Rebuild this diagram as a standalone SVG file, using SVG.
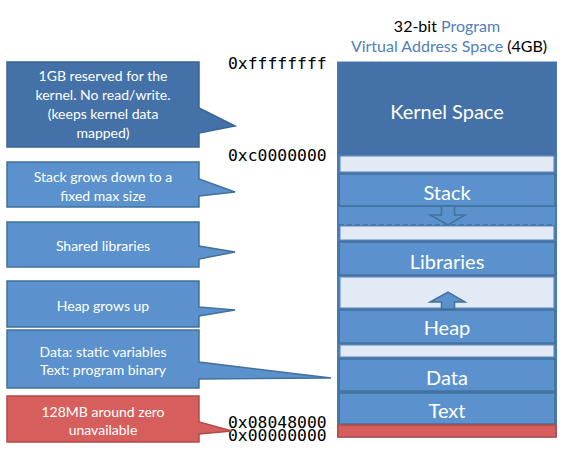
<svg xmlns="http://www.w3.org/2000/svg" width="581" height="453" viewBox="0 0 581 453">
<style>
.t{font-family:Lato,"Open Sans","Liberation Sans",sans-serif;text-anchor:middle;fill:#fff}
.c{font-size:14px}
.b{font-size:20px}
.addr{font-family:"DejaVu Sans Mono","Liberation Mono",monospace;font-size:16.4px;fill:#000}
.blk{fill:#5b92cd;stroke:#41719c;stroke-width:1.5}
.lt{fill:#e1eaf5;stroke:#5b85b8;stroke-width:1}
.cb{fill:#5b92cd;stroke:#41719c;stroke-width:1.5}
.ck{fill:#4472a8;stroke:#3a6496;stroke-width:1.5}
.cr{fill:#d65f5d;stroke:#b34b4a;stroke-width:1.5}
</style>
<rect width="581" height="453" fill="#fff"/>
<g id="title" font-family="Lato,'Open Sans','Liberation Sans',sans-serif" font-size="16" text-anchor="middle">
<text x="447" y="32"><tspan fill="#000">32-bit </tspan><tspan fill="#4f7fbd">Program</tspan></text>
<text x="449" y="52"><tspan fill="#4f7fbd">Virtual Address Space </tspan><tspan fill="#000">(4GB)</tspan></text>
</g>
<g id="column">
<rect x="337" y="61.5" width="220" height="376" fill="#4a7bb6"/>
<g id="kernel"><rect x="338" y="62" width="218" height="93" fill="#4472a8"/><text class="t b" x="447" y="119">Kernel Space</text></g>
<rect class="lt" x="340" y="156" width="214" height="16"/>
<g id="stack"><rect class="blk" x="339" y="174" width="216" height="32"/><text class="t b" x="447" y="200">Stack</text></g>
<g id="stack-growth">
<rect x="339" y="207" width="216" height="18" fill="#5b92cd"/>
<line x1="339" y1="225" x2="555" y2="225" stroke="#41719c" stroke-width="1.5" stroke-dasharray="5,3"/>
<path d="M441.5,206 H454.5 V215 H465 L448,225 L430,215 H441.5 Z" fill="#5b92cd" stroke="#41719c" stroke-width="1.5"/>
</g>
<rect class="lt" x="340" y="226" width="214" height="14"/>
<g id="libraries"><rect class="blk" x="339" y="242" width="216" height="33"/><text class="t b" x="447" y="269">Libraries</text></g>
<rect class="lt" x="340" y="277" width="214" height="31"/>
<g id="heap-growth"><path d="M441.5,309 V302 H430 L448,292 L465,302 H454.5 V309 Z" fill="#5b92cd" stroke="#41719c" stroke-width="1.5"/></g>
<g id="heap"><rect class="blk" x="339" y="310" width="216" height="33"/><text class="t b" x="447" y="335">Heap</text></g>
<rect class="lt" x="340" y="345" width="214" height="12"/>
<g id="data"><rect class="blk" x="339" y="359" width="216" height="32"/><text class="t b" x="447" y="385">Data</text></g>
<g id="text"><rect class="blk" x="339" y="393" width="216" height="31"/><text class="t b" x="447" y="418">Text</text></g>
<g id="reserved"><rect x="338" y="425" width="218" height="12" fill="#d65f5d" stroke="#b34b4a" stroke-width="1.5"/></g>
</g>
<g id="addresses">
<text class="addr" x="228" y="69">0xffffffff</text>
<text class="addr" x="228" y="161">0xc0000000</text>
<text class="addr" x="228" y="428">0x08048000</text>
<text class="addr" x="228" y="441">0x00000000</text>
</g>
<g id="callout-kernel">
<path class="ck" d="M7,62 H199 V108 L235,126 L199,133 V147 H7 Z"/>
<text class="t c" x="103" y="81">1GB reserved for the</text>
<text class="t c" x="103" y="100">kernel. No read/write.</text>
<text class="t c" x="103" y="119">(keeps kernel data</text>
<text class="t c" x="103" y="138">mapped)</text>
</g>
<g id="callout-stack">
<path class="cb" d="M7,162 H199 V179 L235,192 L199,196 V207 H7 Z"/>
<text class="t c" x="103" y="182">Stack grows down to a</text>
<text class="t c" x="103" y="201">fixed max size</text>
</g>
<g id="callout-libraries">
<path class="cb" d="M7,222 H199 V246 L235,252 L199,259 V267 H7 Z"/>
<text class="t c" x="103" y="251">Shared libraries</text>
</g>
<g id="callout-heap">
<path class="cb" d="M7,281 H199 V307 L235,310 L199,316 V327 H7 Z"/>
<text class="t c" x="103" y="311">Heap grows up</text>
</g>
<g id="callout-datatext">
<path class="cb" d="M7,330 H199 V362 L331,378 L199,379 V388 H7 Z"/>
<text class="t c" x="103" y="357">Data: static variables</text>
<text class="t c" x="103" y="375">Text: program binary</text>
</g>
<g id="callout-zero">
<path class="cr" d="M7,396 H199 V422 L232,431 L199,434 V442 H7 Z"/>
<text class="t c" x="103" y="417">128MB around zero</text>
<text class="t c" x="103" y="435">unavailable</text>
</g>
</svg>
